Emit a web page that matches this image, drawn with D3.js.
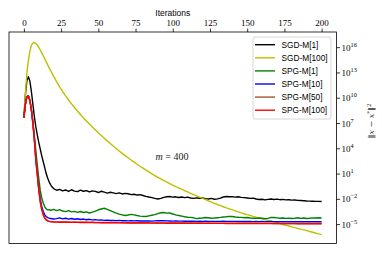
<!DOCTYPE html>
<html>
<head>
<meta charset="utf-8">
<script src="https://cdn.jsdelivr.net/npm/d3@7"></script>
<style>
  body { margin: 0; background: #fff; }
  svg { display: block; }
</style>
</head>
<body>
<script>
// iteration grid: every iteration up to 20, then every second one
var iters = d3.range(0, 21).concat(d3.range(22, 201, 2));

// log10 of ||x - x*||^2
var sgdM1 = [7.6, 10.3, 12.0, 12.5, 12.0, 10.8, 9.3, 7.8, 6.6, 5.6, 4.7, 3.9, 3.1, 2.4, 1.7, 1.0, 0.45, 0.0, -0.35, -0.6, -0.78,
  -0.98, -0.88, -1.05, -0.95, -1.12, -0.92, -1.08, -1.15, -0.97, -1.1, -1.02, -1.18, -1.05, -1.12, -1.25, -1.1, -1.2, -1.32, -1.22, -1.3,
  -1.38, -1.3, -1.42, -1.35, -1.4, -1.5, -1.45, -1.55, -1.5, -1.6, -1.7, -1.78, -1.85, -1.95, -2.02, -1.95, -1.82, -1.75, -1.72, -1.8,
  -1.76, -1.84, -1.78, -1.86, -1.8, -1.9, -1.95, -1.88, -1.93, -1.9, -1.98, -2.02, -1.95, -2.05, -2.0, -1.92, -1.78, -1.72, -1.76, -1.74,
  -1.8, -1.75, -1.82, -1.86, -1.9, -1.95, -1.92, -2.02, -2.08, -2.05, -2.12, -2.06, -2.02, -2.08, -2.04, -2.1, -2.06, -2.12, -2.1, -2.15,
  -2.13, -2.18, -2.2, -2.22, -2.25, -2.27, -2.28, -2.3, -2.3, -2.32];
var sgdM100 = [7.6, 10.4, 12.9, 14.4, 15.5, 16.2, 16.48, 16.55, 16.45, 16.25, 15.98, 15.67, 15.33, 14.98, 14.62, 14.26, 13.9, 13.55, 13.2, 12.86, 12.53,
  11.9, 11.3, 10.74, 10.22, 9.73, 9.27, 8.84, 8.43, 8.01, 7.6, 7.23, 6.87, 6.52, 6.18, 5.85, 5.52, 5.2, 4.88, 4.57, 4.27,
  3.97, 3.68, 3.4, 3.13, 2.87, 2.61, 2.36, 2.11, 1.87, 1.64, 1.41, 1.19, 0.97, 0.76, 0.56, 0.36, 0.17, -0.02, -0.2, -0.37,
  -0.54, -0.7, -0.86, -1.02, -1.18, -1.34, -1.49, -1.64, -1.79, -1.94, -2.09, -2.24, -2.39, -2.53, -2.67, -2.81, -2.94, -3.07, -3.19, -3.31,
  -3.43, -3.55, -3.66, -3.77, -3.88, -3.98, -4.08, -4.18, -4.28, -4.38, -4.47, -4.57, -4.66, -4.76, -4.85, -4.94, -5.04, -5.13, -5.22, -5.32,
  -5.41, -5.5, -5.6, -5.69, -5.78, -5.88, -5.97, -6.06, -6.16, -6.25];
var spgM1 = [7.6, 9.2, 10.1, 10.25, 9.7, 8.65, 7.3, 5.6, 3.8, 2.0, 0.4, -1.0, -1.9, -2.5, -2.95, -3.2, -3.32, -3.28, -3.38, -3.3, -3.25,
  -3.4, -3.28, -3.45, -3.52, -3.4, -3.55, -3.48, -3.6, -3.5, -3.62, -3.55, -3.68, -3.58, -3.45, -3.3, -3.2, -3.12, -3.25, -3.4, -3.55,
  -3.7, -3.82, -3.9, -3.98, -3.92, -3.85, -3.9, -3.98, -4.05, -4.08, -4.1, -4.02, -3.95, -3.88, -3.75, -3.65, -3.62, -3.7, -3.68, -3.8,
  -3.9, -3.98, -4.05, -4.12, -4.18, -4.2, -4.25, -4.35, -4.3, -4.28, -4.22, -4.25, -4.3, -4.28, -4.24, -4.2, -4.15, -4.12, -4.08, -4.1,
  -4.15, -4.18, -4.2, -4.25, -4.22, -4.28, -4.3, -4.32, -4.28, -4.3, -4.35, -4.32, -4.2, -4.22, -4.26, -4.3, -4.28, -4.32, -4.3, -4.34,
  -4.3, -4.25, -4.32, -4.28, -4.33, -4.3, -4.26, -4.28, -4.25, -4.27];
var spgM10 = [7.6, 9.2, 10.1, 10.25, 9.7, 8.6, 7.1, 5.3, 2.9, 1.1, -0.7, -2.0, -2.9, -3.5, -3.9, -4.1, -4.22, -4.3, -4.34, -4.37, -4.4,
  -4.35, -4.25, -4.38, -4.3, -4.4, -4.33, -4.42, -4.36, -4.45, -4.4, -4.48, -4.43, -4.5, -4.47, -4.53, -4.5, -4.55, -4.52, -4.57, -4.55,
  -4.58, -4.56, -4.6, -4.58, -4.61, -4.59, -4.62, -4.6, -4.63, -4.61, -4.63, -4.62, -4.64, -4.62, -4.6, -4.58, -4.6, -4.62, -4.63, -4.64,
  -4.63, -4.65, -4.64, -4.66, -4.65, -4.66, -4.65, -4.67, -4.66, -4.67, -4.66, -4.67, -4.68, -4.67, -4.68, -4.67, -4.66, -4.67, -4.68, -4.67,
  -4.68, -4.69, -4.68, -4.69, -4.68, -4.69, -4.7, -4.69, -4.7, -4.69, -4.7, -4.7, -4.69, -4.7, -4.71, -4.7, -4.71, -4.7, -4.71, -4.71,
  -4.7, -4.71, -4.72, -4.71, -4.72, -4.71, -4.72, -4.72, -4.71, -4.72];
var spgM50 = [7.6, 9.2, 10.1, 10.25, 9.7, 8.6, 7.05, 5.1, 2.75, 0.95, -0.85, -2.3, -3.2, -3.85, -4.25, -4.46, -4.58, -4.64, -4.68, -4.7, -4.72,
  -4.73, -4.74, -4.75, -4.74, -4.76, -4.76, -4.77, -4.76, -4.78, -4.77, -4.78, -4.79, -4.78, -4.8, -4.79, -4.8, -4.81, -4.8, -4.81, -4.82,
  -4.81, -4.82, -4.83, -4.82, -4.83, -4.84, -4.83, -4.84, -4.84, -4.85, -4.84, -4.85, -4.85, -4.86, -4.85, -4.86, -4.86, -4.86, -4.87, -4.86,
  -4.87, -4.86, -4.87, -4.87, -4.88, -4.87, -4.88, -4.88, -4.87, -4.88, -4.88, -4.89, -4.88, -4.89, -4.88, -4.89, -4.89, -4.89, -4.9, -4.89,
  -4.9, -4.89, -4.9, -4.9, -4.9, -4.9, -4.91, -4.9, -4.91, -4.91, -4.91, -4.91, -4.91, -4.92, -4.91, -4.92, -4.92, -4.92, -4.92, -4.92,
  -4.92, -4.92, -4.93, -4.92, -4.93, -4.93, -4.93, -4.93, -4.93, -4.93];
var spgM100 = [7.6, 9.2, 10.1, 10.25, 9.7, 8.6, 7.0, 5.0, 2.6, 0.8, -1.0, -2.4, -3.3, -3.9, -4.3, -4.5, -4.62, -4.68, -4.72, -4.74, -4.75,
  -4.76, -4.77, -4.77, -4.78, -4.78, -4.79, -4.78, -4.79, -4.8, -4.8, -4.81, -4.8, -4.81, -4.82, -4.82, -4.83, -4.82, -4.83, -4.84, -4.84,
  -4.84, -4.85, -4.85, -4.85, -4.86, -4.86, -4.86, -4.87, -4.86, -4.87, -4.87, -4.87, -4.88, -4.88, -4.87, -4.88, -4.88, -4.89, -4.88, -4.89,
  -4.89, -4.89, -4.89, -4.9, -4.89, -4.9, -4.9, -4.9, -4.9, -4.9, -4.91, -4.9, -4.91, -4.91, -4.91, -4.91, -4.91, -4.92, -4.91, -4.92,
  -4.92, -4.92, -4.92, -4.92, -4.92, -4.93, -4.92, -4.93, -4.93, -4.93, -4.93, -4.93, -4.93, -4.94, -4.93, -4.94, -4.94, -4.94, -4.94, -4.94,
  -4.94, -4.95, -4.94, -4.95, -4.95, -4.95, -4.95, -4.95, -4.95, -4.95];

var seriesNames = ["SGD-M[1]", "SGD-M[100]", "SPG-M[1]", "SPG-M[10]", "SPG-M[50]", "SPG-M[100]"];
var seriesValues = [sgdM1, sgdM100, spgM1, spgM10, spgM50, spgM100];
var seriesColors = ["#000000", "#bfbf00", "#008000", "#0000ff", "#a0522d", "#ff0000"];
var xTicks = [0, 25, 50, 75, 100, 125, 150, 175, 200];
var yTickExps = [16, 13, 10, 7, 4, 1, -2, -5];

var W = 382, H = 254;
var margin = { left: 9, right: 336.5, top: 32, bottom: 243.5 };
var serif = "'Liberation Serif', 'Times New Roman', serif";
var sans = "'Liberation Sans', Arial, sans-serif";

var svg = d3.select("body").append("svg").attr("width", W).attr("height", H);

var x = d3.scaleLinear().domain([-10, 210]).range([margin.left, margin.right]);
var y = d3.scaleLog().domain([Math.pow(10, -7.3), Math.pow(10, 17.8)]).range([margin.bottom, margin.top]);

svg.append("clipPath").attr("id", "clip")
  .append("rect").attr("x", margin.left).attr("y", margin.top)
  .attr("width", margin.right - margin.left).attr("height", margin.bottom - margin.top);

// curves
var line = d3.line()
  .x(function (d, i) { return x(iters[i]); })
  .y(function (d) { return y(Math.pow(10, d)); });

var plot = svg.append("g").attr("clip-path", "url(#clip)");
for (var k = 0; k < seriesValues.length; k++) {
  plot.append("path")
    .attr("d", line(seriesValues[k]))
    .attr("fill", "none")
    .attr("stroke", seriesColors[k])
    .attr("stroke-width", 1.4)
    .attr("stroke-linejoin", "round");
}

// frame
svg.append("rect")
  .attr("x", margin.left).attr("y", margin.top)
  .attr("width", margin.right - margin.left).attr("height", margin.bottom - margin.top)
  .attr("fill", "none").attr("stroke", "#000").attr("stroke-width", 0.8);

// top axis
var gx = svg.append("g")
  .attr("transform", "translate(0," + margin.top + ")")
  .call(d3.axisTop(x).tickValues(xTicks).tickSize(3.5).tickPadding(2.5));
gx.select(".domain").remove();
gx.selectAll("line").attr("stroke-width", 0.8);
gx.selectAll("text")
  .attr("font-family", serif)
  .attr("font-size", 9).attr("fill", "#000");

svg.append("text")
  .attr("x", (margin.left + margin.right) / 2).attr("y", 15.5)
  .attr("text-anchor", "middle")
  .attr("font-family", sans)
  .attr("font-size", 8.5)
  .text("Iterations");

// right axis
var gy = svg.append("g")
  .attr("transform", "translate(" + margin.right + ",0)")
  .call(d3.axisRight(y).tickValues(yTickExps.map(function (e) { return Math.pow(10, e); }))
    .tickSize(3.5).tickFormat(""));
gy.select(".domain").remove();
gy.selectAll("line").attr("stroke-width", 0.8);
gy.selectAll(".tick").each(function (d) {
  var e = Math.round(Math.log10(d));
  var t = d3.select(this).append("text")
    .attr("x", 5).attr("y", 3)
    .attr("fill", "#000")
    .attr("font-family", serif)
    .attr("font-size", 9)
    .attr("text-anchor", "start");
  t.append("tspan").text("10");
  t.append("tspan").attr("dy", -4).attr("font-size", 6.3).text(e < 0 ? "\u2212" + (-e) : String(e));
});

// y label on the right
var yl = svg.append("text")
  .attr("transform", "translate(374,121) rotate(-90)")
  .attr("text-anchor", "middle")
  .attr("font-family", "'DejaVu Serif', serif")
  .attr("font-size", 8)
  .attr("fill", "#333");
yl.append("tspan").text("\u2016");
yl.append("tspan").attr("font-style", "italic").text("x");
yl.append("tspan").text(" \u2212 ");
yl.append("tspan").attr("font-style", "italic").text("x");
yl.append("tspan").attr("dy", -3).attr("font-size", 5.5).text("*");
yl.append("tspan").attr("dy", 3).text("\u2016");
yl.append("tspan").attr("dy", -3.5).attr("font-size", 5.5).text("2");

// annotation
var ann = svg.append("text")
  .attr("x", 172).attr("y", 159.5)
  .attr("text-anchor", "middle")
  .attr("font-family", serif)
  .attr("font-size", 10)
  .attr("fill", "#222");
ann.append("tspan").attr("font-style", "italic").text("m");
ann.append("tspan").text(" = 400");

// legend
var lg = svg.append("g");
lg.append("rect")
  .attr("x", 253).attr("y", 37).attr("width", 78).attr("height", 82).attr("rx", 2)
  .attr("fill", "#fff").attr("fill-opacity", 0.8)
  .attr("stroke", "#cccccc").attr("stroke-width", 0.8);
seriesNames.forEach(function (name, i) {
  var cy = 44.7 + i * 13.1;
  lg.append("line")
    .attr("x1", 255).attr("x2", 275).attr("y1", cy).attr("y2", cy)
    .attr("stroke", seriesColors[i]).attr("stroke-width", 1.4);
  lg.append("text")
    .attr("x", 281.5).attr("y", cy + 3)
    .attr("font-family", sans)
    .attr("font-size", 8.3)
    .text(name);
});
</script>
</body>
</html>
